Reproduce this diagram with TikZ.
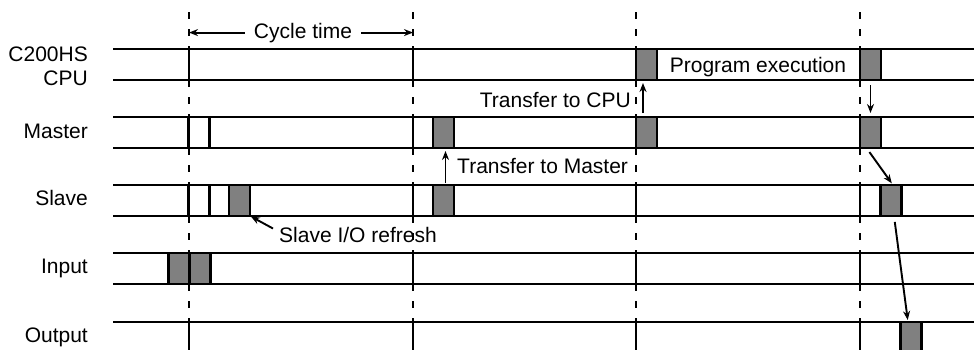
\documentclass[tikz,border=0pt]{standalone}
\usepackage{fontspec}
\setmainfont{Liberation Sans}
\usetikzlibrary{arrows.meta, positioning}

\begin{document}
\begin{tikzpicture}[
    x=1pt, y=-1pt,
    font=\fontsize{21}{24}\selectfont,
    lane/.style={draw, line width=2.2pt},
    tick/.style={draw, line width=2.2pt, dash pattern=on 7pt off 10pt},
    busy/.style={rectangle, draw, line width=2.2pt, fill=black!50, minimum width=21pt, minimum height=31pt, inner sep=0pt, outer sep=0pt},
    idle/.style={busy, fill=white},
    rowname/.style={anchor=base east, inner sep=0pt},
    note/.style={inner sep=0pt},
    arrow/.style={draw, line width=1.9pt, -{Stealth[length=9pt, width=7pt]}}
]

\useasboundingbox (0,0) rectangle (974,349);
\clip (0,0) rectangle (974,349);

% Lanes
\foreach \top in {49,117,185,253,322} {
    \draw[lane] (113,\top) -- (980,\top);
    \draw[lane] (113,\top+31) -- (980,\top+31);
}

% Time marks
\coordinate (t1) at (189,12);
\coordinate (t2) at (413,12);
\coordinate (t3) at (636,12);
\coordinate (t4) at (860,12);
\coordinate (bottom) at (0,355);
\foreach \t in {t1,t2,t3,t4}
    \draw[tick] (\t) -- (\t |- bottom);
\foreach \x in {189,413,636,860}
    \foreach \top in {49,117,185,253,322}
        \draw[lane] (\x,\top) -- (\x,\top+31);

% Row names
\node[anchor=east, align=right, inner sep=0pt] (cpu) at (88,66) {C200HS\\CPU};
\node[rowname] (master) at (88,138) {Master};
\node[rowname] (slave) at (88,205) {Slave};
\node[rowname] (input) at (88,273) {Input};
\node[rowname] (output) at (88,342) {Output};

% CPU
\node[busy] (cbox1) at (646.5,64.5) {};
\node[busy] (cbox2) at (870.5,64.5) {};
\node[note, anchor=base] (exec) at (758,72) {Program execution};

% Master
\node[idle] (mbox1) at (199,132.5) {};
\node[busy] (mbox2) at (443.5,132.5) {};
\node[busy] (mbox3) at (646.5,132.5) {};
\node[busy] (mbox4) at (870.5,132.5) {};

% Slave
\node[idle] (sbox1) at (199,200.5) {};
\node[busy] (sbox2) at (239.5,200.5) {};
\node[busy] (sbox3) at (443.5,200.5) {};
\node[busy] (sbox4) at (891,200.5) {};

% Input and Output
\node[busy] (ibox1) at (179,268.5) {};
\node[busy, right=0pt of ibox1] (ibox2) {};
\node[busy] (obox) at (911,337.5) {};

% Cycle time
\node[note, anchor=base, inner xsep=9pt] (cycle) at (303,38) {Cycle time};
\draw[arrow] (cycle.west) -- (cycle.west -| t1);
\draw[arrow] (cycle.east) -- (cycle.east -| t2);

% Transfers
\node[note, anchor=base east] (tocpu) at (631,107) {Transfer to CPU};
\node[note, anchor=base west] (tomaster) at (457,173) {Transfer to Master};
\node[note, anchor=base west] (refresh) at (279,242) {Slave I/O refresh};

\draw[arrow, shorten <=2pt, shorten >=3pt] ([xshift=2pt]sbox3.north) -- ([xshift=2pt]mbox2.south);
\draw[arrow, shorten <=4pt, shorten >=3pt] ([xshift=-3.5pt]mbox3.north) -- ([xshift=-3.5pt]cbox1.south);
\draw[arrow, shorten <=5pt, shorten >=4pt] (cbox2.south) -- (mbox4.north);
\draw[arrow, shorten <=5pt, shorten >=2pt] ([xshift=-4pt]mbox4.south) -- ([xshift=2pt]sbox4.north);
\draw[arrow, shorten <=6pt, shorten >=2pt] ([xshift=3pt]sbox4.south) -- ([xshift=-3pt]obox.north);
\draw[arrow, shorten >=1pt] ([shift={(-6pt,6pt)}]refresh.west) -- (sbox2.south east);

\end{tikzpicture}
\end{document}
